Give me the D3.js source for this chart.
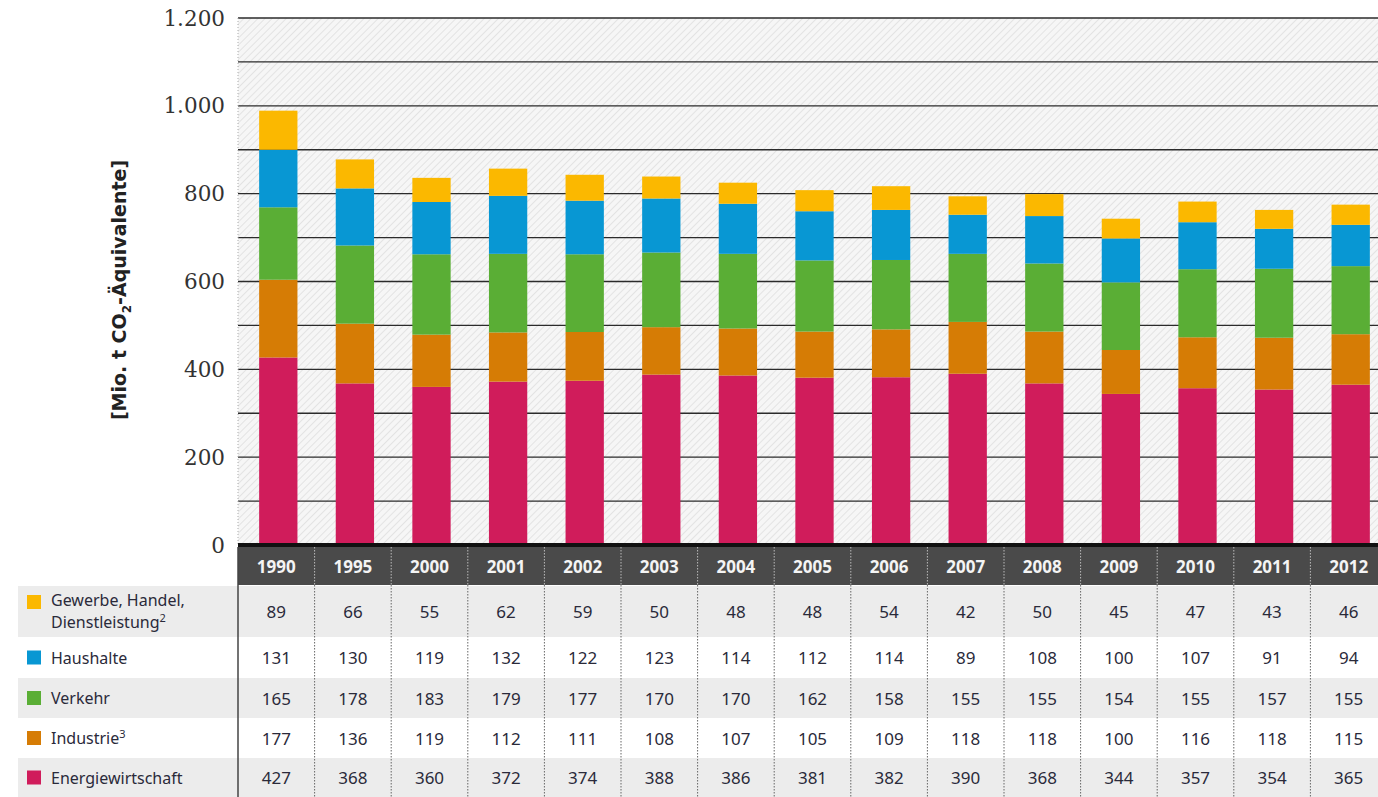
<!DOCTYPE html>
<html>
<head>
<meta charset="utf-8">
<script src="https://cdn.jsdelivr.net/npm/d3@7"></script>
<style>
  body { margin: 0; background: #fff; }
  svg { display: block; }
</style>
</head>
<body>
<svg id="chart"></svg>
<script>
// years and series values (Mio. t CO2-Äquivalente)
var years = ["1990", "1995", "2000", "2001", "2002", "2003", "2004", "2005",
  "2006", "2007", "2008", "2009", "2010", "2011", "2012"];
var energie   = [427, 368, 360, 372, 374, 388, 386, 381, 382, 390, 368, 344, 357, 354, 365];
var industrie = [177, 136, 119, 112, 111, 108, 107, 105, 109, 118, 118, 100, 116, 118, 115];
var verkehr   = [165, 178, 183, 179, 177, 170, 170, 162, 158, 155, 155, 154, 155, 157, 155];
var haushalte = [131, 130, 119, 132, 122, 123, 114, 112, 114, 89, 108, 100, 107, 91, 94];
var gewerbe   = [89, 66, 55, 62, 59, 50, 48, 48, 54, 42, 50, 45, 47, 43, 46];

// series from bottom of the stack to the top
var seriesKeys = ["energie", "industrie", "verkehr", "haushalte", "gewerbe"];
var seriesLabels = {
  gewerbe: [["Gewerbe, Handel,", ""], ["Dienstleistung", "2"]],
  haushalte: [["Haushalte", ""]],
  verkehr: [["Verkehr", ""]],
  industrie: [["Industrie", "3"]],
  energie: [["Energiewirtschaft", ""]]
};
var colors = {
  energie: "#d01c5b",
  industrie: "#d67c05",
  verkehr: "#5aae35",
  haushalte: "#0897d3",
  gewerbe: "#fbb800"
};
var yTicks = [0, 200, 400, 600, 800, 1000, 1200];

function main() {
  const W = 1378, H = 797;
  const left = 238, right = 1387, top = 18, zero = 545;

  const svg = d3.select("#chart").attr("width", W).attr("height", H);

  // build the table the stack layout needs
  const values = { energie, industrie, verkehr, haushalte, gewerbe };
  const table = years.map((y, i) => {
    const row = { year: y };
    seriesKeys.forEach(k => row[k] = values[k][i]);
    return row;
  });
  const stacked = d3.stack().keys(seriesKeys)(table);

  // bars sit a little right of the column centre
  const x = d3.scaleBand().domain(years).range([left + 2, right + 2])
    .paddingInner(0.5).paddingOuter(0.25);
  const xCol = d3.scaleBand().domain(years).range([left, right]).padding(0);
  const y = d3.scaleLinear().domain([0, 1200]).range([zero, top]);

  // hatched background
  const defs = svg.append("defs");
  const pat = defs.append("pattern")
    .attr("id", "hatch")
    .attr("patternUnits", "userSpaceOnUse")
    .attr("width", 5).attr("height", 5)
    .attr("patternTransform", "rotate(45)");
  pat.append("rect").attr("width", 5).attr("height", 5).attr("fill", "#f6f6f6");
  pat.append("line").attr("x1", 0).attr("y1", 0).attr("x2", 0).attr("y2", 5)
    .attr("stroke", "#dcdcdc").attr("stroke-width", 1.4);

  svg.append("rect")
    .attr("x", left).attr("y", y(1200))
    .attr("width", W - left).attr("height", y(0) - y(1200))
    .attr("fill", "url(#hatch)");

  // gridlines every 100
  svg.append("g")
    .selectAll("line")
    .data(d3.range(100, 1201, 100))
    .join("line")
    .attr("x1", left).attr("x2", W)
    .attr("y1", d => y(d)).attr("y2", d => y(d))
    .attr("stroke", "#2b2b2b").attr("stroke-width", 1.3);

  // dotted left border of the plot
  svg.append("line")
    .attr("x1", left).attr("x2", left)
    .attr("y1", y(1200)).attr("y2", y(0))
    .attr("stroke", "#aaa").attr("stroke-width", 1)
    .attr("stroke-dasharray", "1,2");

  // stacked bars
  svg.append("g")
    .selectAll("g")
    .data(stacked)
    .join("g")
    .attr("fill", d => colors[d.key])
    .selectAll("rect")
    .data(d => d)
    .join("rect")
    .attr("x", d => x(d.data.year))
    .attr("width", x.bandwidth())
    .attr("y", d => y(d[1]))
    .attr("height", d => y(d[0]) - y(d[1]));

  // zero line
  svg.append("line")
    .attr("x1", left).attr("x2", W)
    .attr("y1", y(0)).attr("y2", y(0))
    .attr("stroke", "#111").attr("stroke-width", 4);

  // y tick labels
  const fmt = d3.formatLocale({ decimal: ",", thousands: ".", grouping: [3], currency: ["", "€"] }).format(",d");
  svg.append("g")
    .selectAll("text")
    .data(yTicks)
    .join("text")
    .attr("x", 225)
    .attr("y", d => y(d))
    .attr("dy", "0.35em")
    .attr("text-anchor", "end")
    .attr("font-family", "'DejaVu Serif', serif")
    .attr("font-size", 21.5)
    .attr("fill", "#333")
    .text(d => fmt(d));

  // y axis title
  const title = svg.append("text")
    .attr("transform", "translate(126,290) rotate(-90)")
    .attr("text-anchor", "middle")
    .attr("font-family", "'DejaVu Sans', sans-serif")
    .attr("font-weight", "bold")
    .attr("font-size", 19)
    .attr("fill", "#222");
  title.append("tspan").text("[Mio. t CO");
  title.append("tspan").attr("font-size", 12).attr("dy", 5).text("2");
  title.append("tspan").attr("dy", -5).text("-Äquivalente]");

  // ---- data table ----
  const headerTop = 547, headerBottom = 585;
  const rowKeys = ["gewerbe", "haushalte", "verkehr", "industrie", "energie"];
  const rowEdges = [586, 637, 678, 718, 758, 797];

  // header
  svg.append("rect")
    .attr("x", left).attr("y", headerTop)
    .attr("width", W - left).attr("height", headerBottom - headerTop)
    .attr("fill", "#4a4a4a");

  svg.append("g")
    .selectAll("text")
    .data(years)
    .join("text")
    .attr("x", d => xCol(d) + xCol.bandwidth() / 2)
    .attr("y", (headerTop + headerBottom) / 2 + 1)
    .attr("dy", "0.35em")
    .attr("text-anchor", "middle")
    .attr("font-family", "'Noto Sans', sans-serif")
    .attr("font-weight", "bold")
    .attr("font-size", 17)
    .attr("fill", "#f4f4f4")
    .text(d => d);

  // row backgrounds
  const rows = svg.append("g")
    .selectAll("g")
    .data(rowKeys)
    .join("g");

  rows.append("rect")
    .attr("x", 18)
    .attr("y", (d, i) => rowEdges[i])
    .attr("width", W - 18)
    .attr("height", (d, i) => rowEdges[i + 1] - rowEdges[i])
    .attr("fill", (d, i) => i % 2 === 0 ? "#ececec" : "#fff");

  // legend squares
  rows.append("rect")
    .attr("x", 27)
    .attr("y", (d, i) => i === 0 ? 595 : (rowEdges[i] + rowEdges[i + 1]) / 2 - 7)
    .attr("width", 14).attr("height", 14)
    .attr("fill", d => colors[d]);

  // legend labels (multi-line labels as tspans of one text)
  rows.append("text")
    .attr("font-family", "'Noto Sans', sans-serif")
    .attr("font-size", 16)
    .attr("fill", "#2a2a3a")
    .each(function (d, i) {
      const lines = seriesLabels[d];
      const cy = (rowEdges[i] + rowEdges[i + 1]) / 2;
      const t = d3.select(this);
      lines.forEach((l, j) => {
        t.append("tspan")
          .attr("x", 51)
          .attr("y", lines.length > 1 ? 606 + j * 22 : cy + 6)
          .text(l[0]);
        if (l[1]) t.append("tspan").attr("font-size", 11).attr("dy", -6).text(l[1]);
      });
    });

  // values
  rows.selectAll("text.val")
    .data((d, i) => values[d].map((v, j) => ({ v: v, year: years[j], row: i })))
    .join("text")
    .attr("class", "val")
    .attr("x", d => xCol(d.year) + xCol.bandwidth() / 2)
    .attr("y", d => (rowEdges[d.row] + rowEdges[d.row + 1]) / 2 + 1)
    .attr("dy", "0.35em")
    .attr("text-anchor", "middle")
    .attr("font-family", "'Noto Sans', sans-serif")
    .attr("font-size", 17)
    .attr("fill", "#2a2a3a")
    .text(d => d.v);

  // dotted column separators: light in the header, dark in the body
  const seps = svg.append("g")
    .selectAll("g")
    .data(years.slice(1))
    .join("g");
  seps.append("line")
    .attr("x1", d => xCol(d)).attr("x2", d => xCol(d))
    .attr("y1", headerTop).attr("y2", headerBottom)
    .attr("stroke", "#bbb").attr("stroke-width", 1)
    .attr("stroke-dasharray", "1.5,1.5");
  seps.append("line")
    .attr("x1", d => xCol(d)).attr("x2", d => xCol(d))
    .attr("y1", headerBottom).attr("y2", H)
    .attr("stroke", "#666").attr("stroke-width", 1)
    .attr("stroke-dasharray", "1.5,1.5");

  // solid left border of table body
  svg.append("line")
    .attr("x1", left).attr("x2", left)
    .attr("y1", headerTop).attr("y2", H)
    .attr("stroke", "#444").attr("stroke-width", 1.5);
}

main();
</script>
</body>
</html>
